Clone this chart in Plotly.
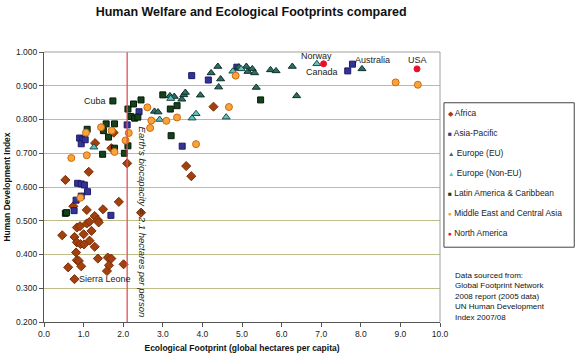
import plotly.graph_objects as go

# ---- data (ecological footprint, HDI) ----
africa_x = [0.46, 0.54, 0.61, 0.74, 0.77, 0.77, 0.81, 0.83, 0.83, 0.83, 0.88, 0.91, 0.92, 0.94, 1.00, 1.01, 1.08, 1.08,
            1.13, 1.15, 1.15, 1.20, 1.28, 1.28, 1.29, 1.36, 1.36, 1.38, 1.49, 1.59, 1.61, 1.64, 1.70, 1.70, 1.76, 1.89,
            2.01, 2.10, 2.45, 3.59, 3.72, 4.28]
africa_y = [0.457, 0.621, 0.362, 0.543, 0.452, 0.327, 0.406, 0.480, 0.436, 0.383, 0.381, 0.484, 0.431, 0.365, 0.460,
            0.430, 0.532, 0.492, 0.645, 0.497, 0.441, 0.470, 0.514, 0.423, 0.730, 0.502, 0.388, 0.495, 0.534, 0.351,
            0.391, 0.368, 0.388, 0.715, 0.761, 0.556, 0.371, 0.670, 0.524, 0.662, 0.632, 0.838]

asia_x = [0.90, 0.98, 0.94, 1.04, 0.85, 0.94, 1.02, 1.10, 0.94, 0.81, 0.76, 1.69, 2.10, 2.40, 3.49, 3.73, 4.15, 4.87,
          7.67, 7.79]
asia_y = [0.745, 0.742, 0.728, 0.740, 0.611, 0.609, 0.606, 0.586, 0.573, 0.561, 0.530, 0.516, 0.784, 0.823, 0.721,
          0.930, 0.917, 0.955, 0.944, 0.964]

eu_x = [2.79, 2.88, 3.18, 3.29, 3.48, 3.53, 3.57, 3.95, 4.22, 4.39, 4.41, 4.46, 4.92, 5.11, 5.15, 5.26, 5.32, 5.36,
        5.72, 5.86, 6.27, 6.38, 8.03]
eu_y = [0.824, 0.822, 0.870, 0.868, 0.860, 0.873, 0.880, 0.872, 0.938, 0.957, 0.896, 0.920, 0.955, 0.957, 0.942,
        0.950, 0.938, 0.895, 0.947, 0.944, 0.957, 0.870, 0.950]

noneu_x = [1.26, 2.92, 3.20, 3.74, 3.84, 4.60, 4.77, 4.98, 6.89]
noneu_y = [0.718, 0.800, 0.862, 0.804, 0.817, 0.807, 0.943, 0.950, 0.965]

latin_x = [0.54, 0.57, 1.09, 1.50, 1.48, 1.57, 1.63, 1.74, 1.78, 1.78, 2.03, 2.12, 2.12, 2.19, 2.26, 2.29, 2.37, 2.45,
           3.00, 3.19, 3.21, 3.36, 5.47]
latin_y = [0.522, 0.524, 0.771, 0.767, 0.697, 0.787, 0.748, 0.855, 0.787, 0.715, 0.700, 0.722, 0.831, 0.809, 0.846,
           0.804, 0.807, 0.858, 0.873, 0.831, 0.752, 0.841, 0.858]

mideast_x = [0.69, 0.92, 1.06, 1.08, 1.44, 1.71, 1.78, 2.06, 2.14, 2.61, 2.68, 2.71, 3.09, 3.36, 3.84, 4.67, 4.84,
             8.88, 9.44]
mideast_y = [0.686, 0.568, 0.761, 0.694, 0.777, 0.767, 0.704, 0.738, 0.760, 0.836, 0.775, 0.797, 0.796, 0.806, 0.727,
             0.837, 0.930, 0.910, 0.903]

namerica_x = [7.06, 9.42]
namerica_y = [0.965, 0.950]

labels = ["Cuba", "Sierra Leone", "Norway", "Canada", "Australia", "USA"]
label_x = [1.74, 0.77, 6.89, 7.06, 7.79, 9.42]
label_y = [0.855, 0.327, 0.965, 0.965, 0.964, 0.950]

biocapacity = 2.1
x_ticks = [i for i in range(0, 11)]
y_ticks = [0.2, 0.3, 0.4, 0.5, 0.6, 0.7, 0.8, 0.9, 1.0]

FONT = "Arial, Liberation Sans, sans-serif"

# name, x, y, marker symbol, size, fill, outline, legend glyph
series = [
    ("Africa", africa_x, africa_y, "diamond", 7, "#A3410E", "#7a2e08", "\u25C6"),
    ("Asia-Pacific", asia_x, asia_y, "square", 6, "#33339A", "#1c1c66", "\u25A0"),
    ("Europe (EU)", eu_x, eu_y, "triangle-up", 7, "#2D6E62", "#10302a", "\u25B2"),
    ("Europe (Non-EU)", noneu_x, noneu_y, "triangle-up", 7, "#5EC4BE", "#1d4a47", "\u25B2"),
    ("Latin America & Caribbean", latin_x, latin_y, "square", 6, "#14421A", "#051a08", "\u25A0"),
    ("Middle East and Central Asia", mideast_x, mideast_y, "circle", 7, "#F7A43A", "#D06A10", "\u25CF"),
    ("North America", namerica_x, namerica_y, "circle", 6, "#E8102A", "#E8102A", "\u25CF"),
]

fig = go.Figure()
for name, xs, ys, sym, sz, col, lc, glyph in series:
    fig.add_trace(go.Scatter(
        x=xs, y=ys, mode="markers", name=name, showlegend=False,
        marker=dict(symbol=sym, size=sz, color=col, line=dict(color=lc, width=1)),
    ))

# biocapacity line
fig.add_shape(type="line", xref="x", yref="paper", x0=biocapacity, x1=biocapacity, y0=0, y1=1,
              line=dict(color="#E0505A", width=1.3))
fig.add_annotation(x=biocapacity, y=0.497, xref="x", yref="y", xshift=15, showarrow=False,
                   text="<i>Earth's biocapacity = 2.1 hectares per person</i>", textangle=90,
                   font=dict(family=FONT, size=9.5, color="#222"))

# border top/right
fig.add_shape(type="line", xref="paper", yref="paper", x0=0, x1=1, y0=1, y1=1, line=dict(color="#A0A0A0", width=1))
fig.add_shape(type="line", xref="paper", yref="paper", x0=1, x1=1, y0=0, y1=1, line=dict(color="#A0A0A0", width=1))

# legend box + entries (text legend)
fig.add_shape(type="rect", xref="paper", yref="paper", x0=1.010, x1=1.339, y0=0.277, y1=0.812,
              line=dict(color="#444", width=1), fillcolor="rgba(0,0,0,0)")
leg_top, leg_step = 0.775, 0.0742
for k, (name, xs, ys, sym, sz, col, lc, glyph) in enumerate(series):
    fig.add_annotation(xref="paper", yref="paper", x=1.014, y=leg_top - k * leg_step, xanchor="left",
                       yanchor="middle", showarrow=False,
                       text=f"<span style='color:{col};font-size:6.5px'>{glyph}</span> {name}",
                       font=dict(family=FONT, size=8.4, color="#222"))

# country labels
offsets = {
    "Cuba": dict(xanchor="right", xshift=-5, yshift=0),
    "Sierra Leone": dict(xanchor="left", xshift=3, yshift=0),
    "Norway": dict(xanchor="center", xshift=0, yshift=8),
    "Canada": dict(xanchor="center", xshift=-2, yshift=-8),
    "Australia": dict(xanchor="left", xshift=1, yshift=4),
    "USA": dict(xanchor="center", xshift=0, yshift=9),
}
for t, lx, ly in zip(labels, label_x, label_y):
    o = offsets[t]
    fig.add_annotation(x=lx, y=ly, text=t, showarrow=False, xanchor=o["xanchor"], yanchor="middle",
                       xshift=o["xshift"], yshift=o["yshift"], font=dict(family=FONT, size=9, color="#222"))

# source note
fig.add_annotation(xref="paper", yref="paper", x=1.034, y=0.197, xanchor="left", yanchor="top", align="left",
                   showarrow=False,
                   text="Data sourced from:<br>Global Footprint Network<br>2008 report (2005 data)<br>UN Human Development<br>Index 2007/08",
                   font=dict(family=FONT, size=8, color="#111"))

fig.update_layout(
    width=576, height=360,
    margin=dict(l=44, r=136, t=52, b=38, autoexpand=False),
    paper_bgcolor="white", plot_bgcolor="white",
    font=dict(family=FONT, size=8, color="#222"),
    title=dict(text="<b>Human Welfare and Ecological Footprints compared</b>", x=0.436, xanchor="center",
               yref="container", y=0.968, yanchor="middle", font=dict(family=FONT, size=12.5, color="#111")),
    showlegend=False,
    xaxis=dict(range=[0, 10], tickvals=x_ticks, tickformat=".1f", showgrid=False, zeroline=False,
               automargin=False,
               showline=True, linecolor="#555", linewidth=1, ticks="outside", ticklen=4, tickcolor="#555",
               tickfont=dict(size=8.5, color="#222"),
               title=dict(text="<b>Ecological Footprint (global hectares per capita)</b>", standoff=6,
                          font=dict(family=FONT, size=8.5, color="#111"))),
    yaxis=dict(range=[0.2, 1.0], tickvals=y_ticks, tickformat=".3f", showgrid=True, gridcolor="#BEBE8C",
               automargin=False,
               gridwidth=1.2, zeroline=False, showline=True, linecolor="#555", linewidth=1,
               ticks="outside", ticklen=4, tickcolor="#555", tickfont=dict(size=8.5, color="#222"),
               title=dict(text="<b>Human Development Index</b>", standoff=4,
                          font=dict(family=FONT, size=8.5, color="#111"))),
)

fig.write_html("out.html", config={"displayModeBar": False},
               post_script="document.body.style.margin='0px';")
